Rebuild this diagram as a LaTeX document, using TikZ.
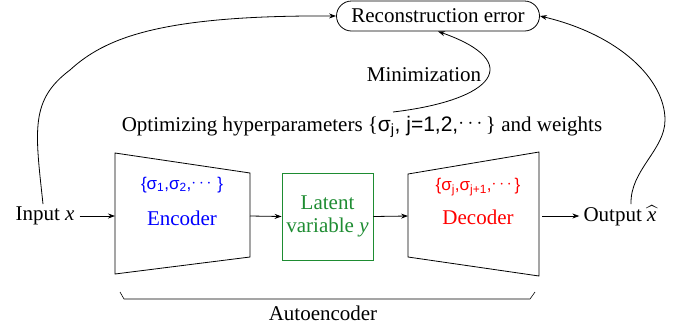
\documentclass[tikz,border=0pt]{standalone}
\usepackage{amsmath}
\usepackage{fontspec}
\setmainfont{Liberation Serif}
\newfontfamily\sansf{Liberation Sans}
\usetikzlibrary{arrows.meta}
\definecolor{lgreen}{RGB}{30,140,50}
\newcommand{\mydots}{\raisebox{0.12em}{$\cdots$}}
\begin{document}
\begin{tikzpicture}[x=1pt,y=-1pt,
  >={Stealth[length=7pt,width=5pt]},
  every node/.style={inner sep=0pt},
  big/.style={font=\fontsize{21}{23}\selectfont},
  small/.style={font=\fontsize{17}{19}\selectfont\sansf},
  line/.style={draw=black, line width=0.8pt},
  conn/.style={->, line width=0.8pt}]
\useasboundingbox (0,0) rectangle (688,333);

% Reconstruction error
\node[big, draw, line width=0.8pt, rounded corners=15pt, minimum width=203pt, minimum height=30pt] (recon) at (438,16) {Reconstruction error};

% texts
\node[big] (mini) at (424,75) {Minimization};
\node[big] (opt) at (362,127) {Optimizing hyperparameters \{{\sansf σ\textsubscript{j}, j=1,2,\mydots}\} and weights};
\coordinate (mstart) at (393,112);

% Input / Output
\node[big] (in) at (45,216) {Input \textit{x}};
\node[big] (out) at (620,216) {Output $\widehat{\textit{x}}$};

% Encoder
\coordinate (e1) at (115,153);
\coordinate (e2) at (250,173);
\coordinate (e3) at (250,257);
\coordinate (e4) at (115,274);
\draw[line] (e1) -- (e2) -- (e3) -- (e4) -- cycle;
\coordinate (encW) at (115,216);
\coordinate (encE) at (250,216);
\node[small, text=blue] (encs) at (182,185) {\{σ\textsubscript{1},σ\textsubscript{2},\mydots\,\}};
\node[big, text=blue] (enc) at (182,218) {Encoder};

% Latent
\node[big, draw=lgreen, line width=0.8pt, text=lgreen, minimum width=91pt, minimum height=87pt, align=center] (lat) at (327.5,216.5) {Latent\\variable \textit{y}};

% Decoder
\coordinate (d1) at (408,174);
\coordinate (d2) at (539,152);
\coordinate (d3) at (539,276);
\coordinate (d4) at (408,257);
\draw[line] (d1) -- (d2) -- (d3) -- (d4) -- cycle;
\coordinate (decW) at (408,216);
\coordinate (decE) at (539,216);
\node[small, text=red] (decs) at (478,187) {\{σ\textsubscript{j},σ\textsubscript{j+1},\mydots\}};
\node[big, text=red] (dec) at (478,217) {Decoder};

% arrows
\draw[conn] (in.east) ++(5,0) coordinate (inE) -- (encW);
\draw[conn] (encE) -- (lat.west);
\draw[conn] (lat.east) -- (decW);
\draw[conn] (decE) ++(3,0) coordinate (decE2) -- ([xshift=-4pt]out.west);

% curves
\coordinate (inN) at (43,204);
\draw[conn] (inN) .. controls (35,130) and (30,100) .. (70,70) .. controls (105,38) and (160,15) .. (recon.west);
\coordinate (outN) at (631,204);
\draw[conn] (outN) .. controls (630,170) and (665,150) .. (665,120) .. controls (665,80) and (620,35) .. (recon.east);
\draw[conn] (mstart) .. controls (495,100) and (525,62) .. (recon.south);

% Autoencoder brace
\coordinate (b1) at (120,292);
\coordinate (b2) at (124,299);
\coordinate (b3) at (530,299);
\coordinate (b4) at (535,292);
\draw[line, line width=0.6pt] (b1) -- (b2) -- (b3) -- (b4);
\node[big] (ae) at (323,313) {Autoencoder};
\end{tikzpicture}
\end{document}
